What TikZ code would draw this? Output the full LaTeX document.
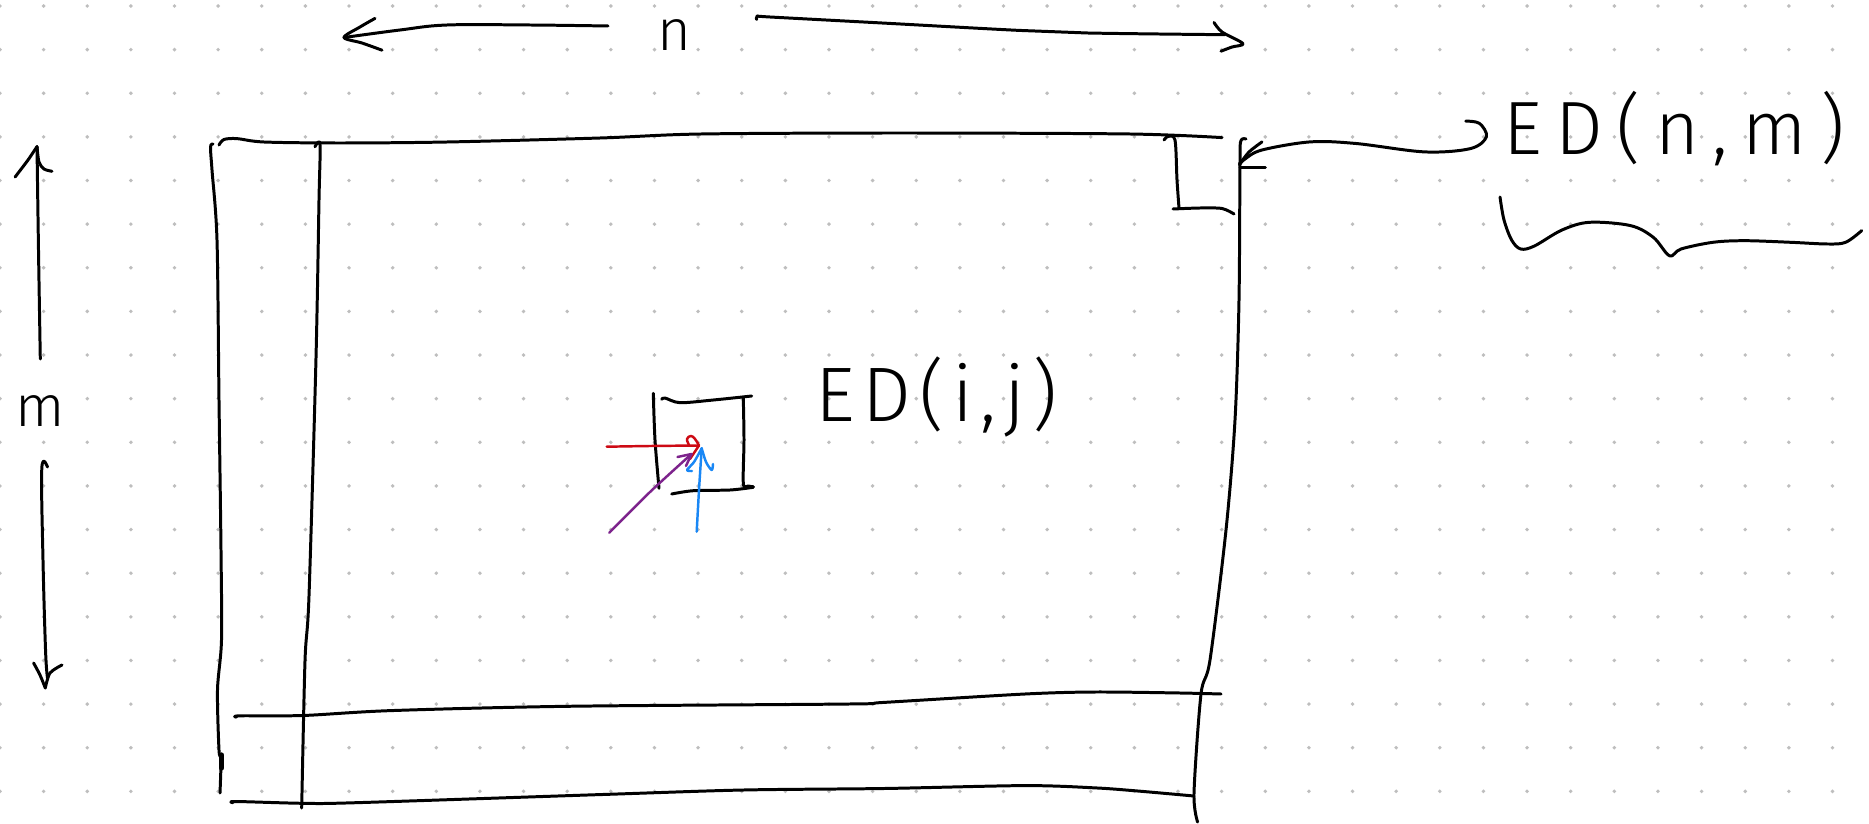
\documentclass[tikz,border=0pt]{standalone}
\usepackage{fontspec}
\newfontfamily\hand{Fira Sans Light}
\definecolor{dotc}{RGB}{190,190,190}
\definecolor{penred}{RGB}{205,10,20}
\definecolor{penpurple}{RGB}{125,35,140}
\definecolor{penblue}{RGB}{25,135,245}
\begin{document}
\begin{tikzpicture}[x=0.02cm,y=-0.02cm,
  pen/.style={line width=1.7pt,line cap=round,line join=round,black},
  thin pen/.style={line width=1.4pt,line cap=round,line join=round},
  lab/.style={inner sep=0pt,anchor=base west,text=black}]
\useasboundingbox (0,0) rectangle (1869,824);
\fill[white] (0,0) rectangle (1869,824);
% dot grid
\foreach \i in {0,...,42}{
  \foreach \j in {0,...,18}{
    \fill[dotc] (\i*43.63,6+\j*43.63) circle (1.1pt);
  }
}
% labels
\node[lab,font=\hand\fontsize{33}{36}\selectfont] (nlab) at (657,51) {n};
\node[lab,font=\hand\fontsize{33}{36}\selectfont] (mlab) at (15,426) {m};
\node[lab,font=\hand\fontsize{44}{48}\selectfont\addfontfeatures{LetterSpace=10}] (edij) at (815,421) {ED(i,j)};
\node[lab,font=\hand\fontsize{43}{48}\selectfont\addfontfeatures{LetterSpace=18}] (ednm) at (1503,155) {ED(n,m)};
% coordinates
\coordinate (nleft) at (344,37.5);
\coordinate (nright) at (1243,43.6);
\coordinate (mtop) at (37,146.6);
\coordinate (mbot) at (45.3,688);
\coordinate (cornertip) at (1239.5,164.5);
% n arrows
\draw[pen] plot[smooth,tension=0.6] coordinates {(608,26) (530,25) (447,25) (400,30) (nleft)};
\draw[pen] plot[smooth,tension=0.5] coordinates {(375,18.4) (360,27) (nleft) (362,43) (382,50.2)};
\draw[pen] plot[smooth,tension=0.6] coordinates {(756.7,19.5) (757.6,16.2) (770,17) (882,23) (1019,30.4) (1087.6,33) (1225,34.7)};
\draw[pen] plot[smooth,tension=0.5] coordinates {(1214,22.5) (1222,32) (nright) (1232,47) (1221,51.2)};
% m arrows
\draw[pen] plot[smooth,tension=0.6] coordinates {(40.3,359) (38.5,250) (mtop)};
\draw[pen] plot[smooth,tension=0.5] coordinates {(15.1,177) (28,160) (mtop)};
\draw[pen] plot[smooth,tension=0.5] coordinates {(mtop) (39,162) (44,169) (52,171.3)};
\draw[pen] plot[smooth,tension=0.6] coordinates {(47.5,467) (41.8,468.5) (43,560) (45.6,651.7) (47.5,678)};
\draw[pen] plot[smooth,tension=0.5] coordinates {(33.6,663) (40,675) (mbot)};
\draw[pen] plot[smooth,tension=0.5] coordinates {(mbot) (50,673) (62,665)};
% big frame
% top line
\draw[pen] plot[smooth,tension=0.5] coordinates {(219,145) (224,139.5) (237,138.6) (264,142) (340,143) (447,142) (600,138) (701,134) (900,133) (1130,134) (1222,137.6)};
% outer left
\draw[pen] plot[smooth,tension=0.5] coordinates {(213,144) (210.5,147) (212,170) (217,240) (219,400) (221,550) (221.5,640) (217.5,690) (219,750) (221,760) (220,793)};
\draw[line width=3pt,line cap=round] (221.5,755) -- (221.5,768);
% inner left
\draw[pen] plot[smooth,tension=0.5] coordinates {(315,146.8) (320,144.5) (319,200) (316,358) (309,596) (305,661) (301.7,808)};
% right
\draw[pen] plot[smooth,tension=0.5] coordinates {(1246,139) (1241,140.5) (1240,160) (1239,300) (1235,420) (1226,530) (1210,660) (1201,694) (1194,793) (1197.6,822)};
% bottom lines
\draw[pen] plot[smooth,tension=0.5] coordinates {(236.3,717.2) (240,715.8) (303,715.5) (391,710.6) (567,706.3) (849,704) (884,702.4) (1025,694) (1095.5,692) (1180,693) (1221,694)};
\draw[pen] plot[smooth,tension=0.5] coordinates {(233,802.7) (236,801.5) (303,803.3) (356,802.7) (602.5,794.5) (743.4,790) (884,788.5) (1025,785.6) (1095.5,787.9) (1137.7,791) (1194,796)};
% top right bracket
\draw[pen] plot[smooth,tension=0.5] coordinates {(1164,140) (1168,136.5) (1175,140) (1177,180) (1179,208)};
\draw[pen] plot[smooth,tension=0.5] coordinates {(1173,209) (1200,208) (1222,208.5) (1234,214)};
% curly arrow from ED(n,m)
\draw[pen] plot[smooth,tension=0.55] coordinates {(1465.8,121.1) (1479.5,123.4) (1486.4,136.8) (1470.4,148.6) (1424.6,151.9) (1356,143.5) (1310.2,141.9) (1262,150) (1245,159) (cornertip)};
\draw[pen] plot[smooth,tension=0.5] coordinates {(1262,141.9) (1249,152) (cornertip)};
\draw[pen] (1240,167.6) -- (1265.4,167.6);
% brace
\draw[pen] plot[smooth,tension=0.55] coordinates {(1500,197) (1504,220) (1511.6,240) (1520.7,249) (1534.4,246) (1562,230) (1589.4,222.3) (1630.5,225.6) (1653.4,237.4) (1669.5,255.8) (1681,249) (1713,242.3) (1745,240.7) (1790.7,242.3) (1827.4,244) (1845.6,242.3) (1861.7,230.6)};
% small cell
\draw[pen] plot[smooth,tension=0.5] coordinates {(653.3,393.3) (655,440) (659,488.3)};
\draw[pen] plot[smooth,tension=0.5] coordinates {(661.7,399.3) (665,398) (680,402.7) (713.3,400) (751.7,396)};
\draw[pen] plot[smooth,tension=0.5] coordinates {(743.3,398.3) (744,440) (743.3,483.3) (748,486) (753.3,486.7)};
\draw[pen] plot[smooth,tension=0.5] coordinates {(671.7,494) (693.3,490.7) (730,490) (753.3,487.3)};
% red arrow
\coordinate (redtip) at (699,445.5);
\draw[thin pen,penred] plot[smooth,tension=0.5] coordinates {(606.7,446.7) (650,446) (redtip)};
\draw[thin pen,penred] plot[smooth,tension=0.7] coordinates {(689,445) (687,439) (691,436) (695,439) (redtip)};
\draw[thin pen,penred] (redtip) -- (690,459);
% purple arrow
\coordinate (purtip) at (691.5,454);
\draw[thin pen,penpurple] plot[smooth,tension=0.5] coordinates {(609.3,532.7) (650,492) (purtip)};
\draw[thin pen,penpurple] (677.5,457) -- (purtip) -- (686,466);
% blue arrow
\coordinate (bluetip) at (701.7,448.3);
\draw[thin pen,penblue] plot[smooth,tension=0.5] coordinates {(696.7,531.7) (699,490) (bluetip)};
\draw[thin pen,penblue] plot[smooth,tension=0.5] coordinates {(bluetip) (694,462) (687,470) (692,471)};
\draw[thin pen,penblue] plot[smooth,tension=0.5] coordinates {(bluetip) (706,462) (711.7,470) (713,464)};
\end{tikzpicture}
\end{document}
